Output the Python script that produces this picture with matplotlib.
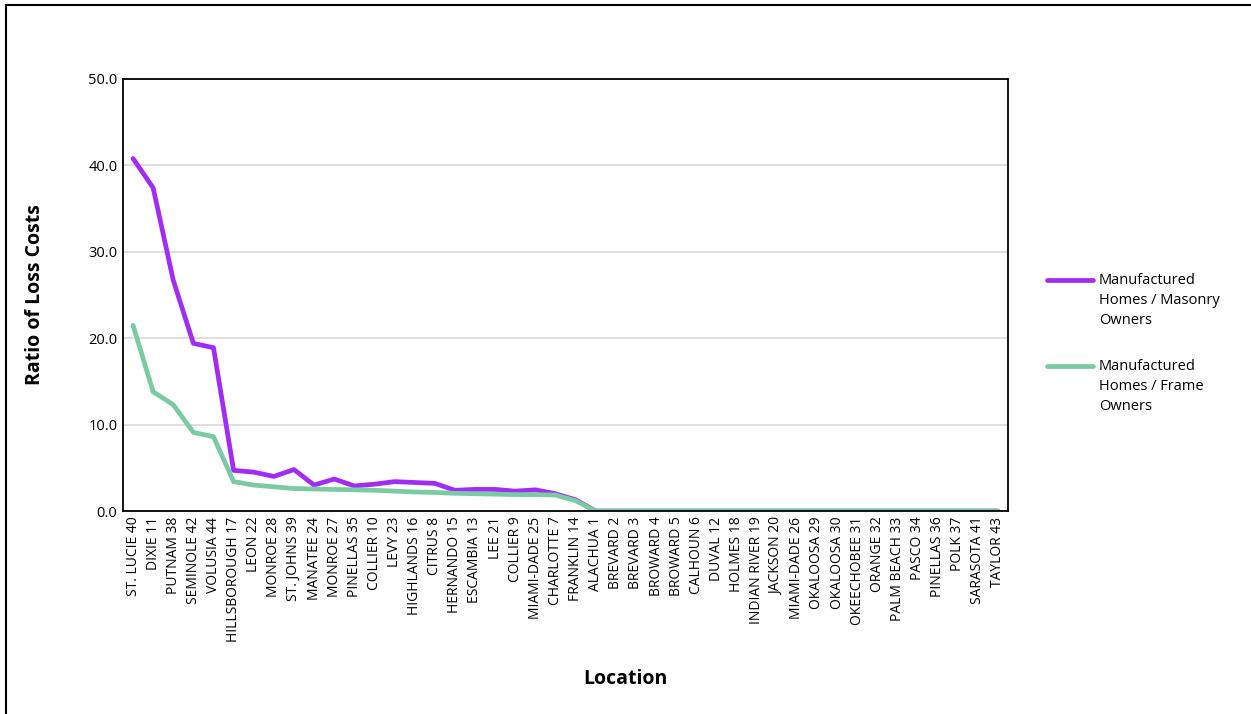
import matplotlib.pyplot as plt
from matplotlib.lines import Line2D

plt.rcParams['font.family'] = ['Open Sans', 'DejaVu Sans']

locations = ['ST. LUCIE 40', 'DIXIE 11', 'PUTNAM 38', 'SEMINOLE 42', 'VOLUSIA 44', 'HILLSBOROUGH 17',
             'LEON 22', 'MONROE 28', 'ST. JOHNS 39', 'MANATEE 24', 'MONROE 27', 'PINELLAS 35',
             'COLLIER 10', 'LEVY 23', 'HIGHLANDS 16', 'CITRUS 8', 'HERNANDO 15', 'ESCAMBIA 13',
             'LEE 21', 'COLLIER 9', 'MIAMI-DADE 25', 'CHARLOTTE 7', 'FRANKLIN 14', 'ALACHUA 1',
             'BREVARD 2', 'BREVARD 3', 'BROWARD 4', 'BROWARD 5', 'CALHOUN 6', 'DUVAL 12',
             'HOLMES 18', 'INDIAN RIVER 19', 'JACKSON 20', 'MIAMI-DADE 26', 'OKALOOSA 29',
             'OKALOOSA 30', 'OKEECHOBEE 31', 'ORANGE 32', 'PALM BEACH 33', 'PASCO 34',
             'PINELLAS 36', 'POLK 37', 'SARASOTA 41', 'TAYLOR 43']

masonry = [40.8, 37.4, 26.7, 19.4, 18.9, 4.7, 4.5, 4.0, 4.8, 3.0, 3.7, 2.9, 3.1, 3.4,
           3.3, 3.2, 2.4, 2.5, 2.5, 2.3, 2.45, 2.0, 1.3, 0.0] + [0.0] * 20
frame = [21.5, 13.8, 12.3, 9.1, 8.6, 3.4, 3.0, 2.8, 2.6, 2.55, 2.5, 2.45, 2.4, 2.3,
         2.2, 2.15, 2.05, 2.0, 1.95, 1.9, 1.9, 1.85, 1.2, 0.0] + [0.0] * 20

series = [('Manufactured\nHomes / Masonry\nOwners', masonry, '#A22BF5'),
          ('Manufactured\nHomes / Frame\nOwners', frame, '#7ACBA3')]

fig = plt.figure(figsize=(12.51, 7.14), dpi=100)
ax = fig.add_axes([0.0983, 0.2843, 0.7075, 0.6051])

x = range(len(locations))
for name, vals, col in series:
    ax.plot(x, vals, color=col, linewidth=3.4, solid_capstyle='round', solid_joinstyle='round')

ax.set_xlim(-0.5, len(locations) - 0.5)
ax.set_ylim(0, 50)
ax.set_yticks([0, 10, 20, 30, 40, 50])
ax.set_yticklabels(['%.1f' % v for v in [0, 10, 20, 30, 40, 50]], fontsize=10.5)
ax.set_xticks(list(x))
ax.set_xticklabels(locations, rotation=90, fontsize=10)
ax.tick_params(axis='both', length=0, pad=4)
ax.grid(True, axis='y', color='#D9D9D9', linewidth=1.2)
ax.set_axisbelow(True)
for s in ax.spines.values():
    s.set_linewidth(1.3)
    s.set_color('black')

ax.set_ylabel('Ratio of Loss Costs', fontsize=14, fontweight='bold')
ax.yaxis.set_label_coords(-0.088, 0.5)
fig.text(0.5, 0.049, 'Location', fontsize=14, fontweight='bold', ha='center', va='center')

# legend, Excel style: marker aligned with first text line
W, H = 1251, 714
for i, (name, vals, col) in enumerate(series):
    y = 280 + i * 86
    fig.lines.append(Line2D([1047 / W, 1093 / W], [1 - y / H, 1 - y / H], transform=fig.transFigure,
                            color=col, linewidth=3.4, solid_capstyle='round'))
    fig.text(1099 / W, 1 - (y - 7) / H, name, fontsize=10.5, ha='left', va='top', linespacing=1.45)

# chart-area border: only top and left edges are visible in the crop
fig.lines.append(Line2D([6 / W, 6 / W], [0, 1 - 5 / H], transform=fig.transFigure,
                        color='black', linewidth=1.5))
fig.lines.append(Line2D([6 / W, 1], [1 - 5 / H, 1 - 5 / H], transform=fig.transFigure,
                        color='black', linewidth=1.5))

plt.savefig('out.png', dpi=100)
